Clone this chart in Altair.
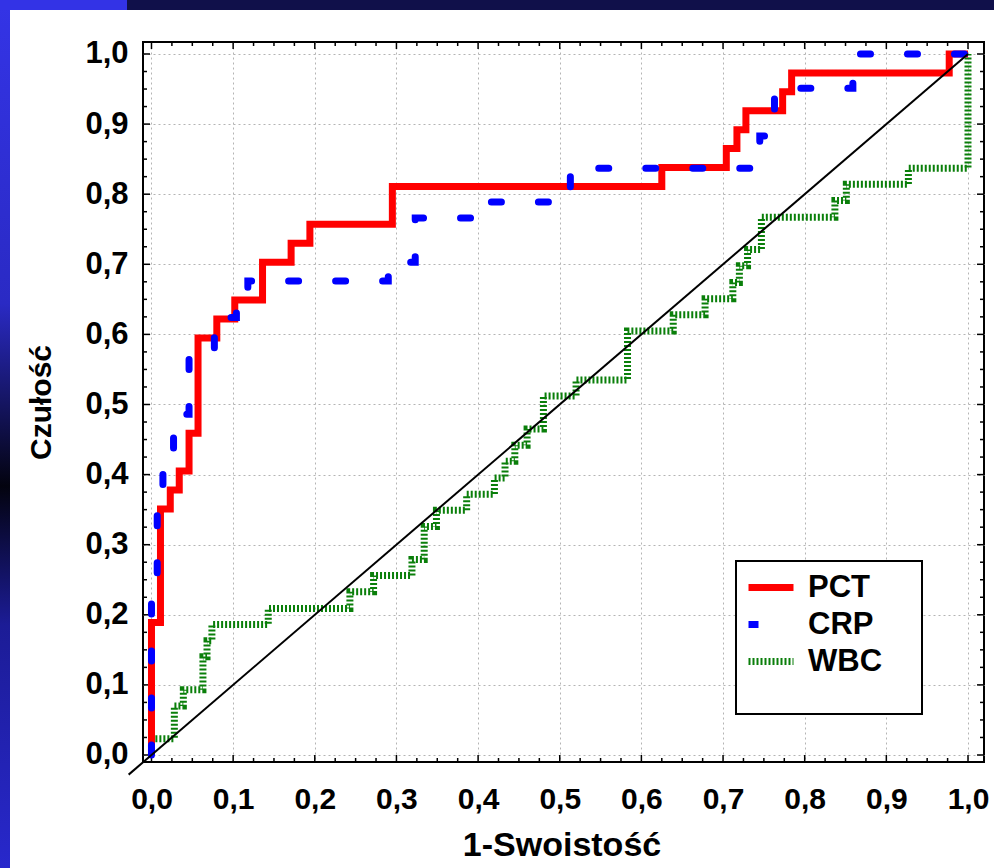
import altair as alt
import pandas as pd

# ---------------- data ----------------
tests = ["PCT", "CRP", "WBC"]
line_colors = ["#ff0000", "#0000ff", "#0a7f0a"]
line_dashes = [[1, 0], [10, 37], [2, 2]]

# ROC corner points (end of each horizontal run), drawn with step-before
pct_fpr = [0.0, 0.011, 0.023, 0.034, 0.046, 0.057, 0.080, 0.102, 0.136, 0.171,
           0.194, 0.295, 0.625, 0.704, 0.717, 0.728, 0.773, 0.784, 0.977, 1.0]
pct_tpr = [0.0, 0.189, 0.351, 0.378, 0.405, 0.459, 0.595, 0.622, 0.649, 0.703,
           0.730, 0.757, 0.811, 0.838, 0.865, 0.892, 0.919, 0.946, 0.973, 1.0]

crp_fpr = [0.0, 0.007, 0.014, 0.027, 0.046, 0.077, 0.104, 0.118, 0.290, 0.323,
           0.410, 0.513, 0.745, 0.763, 0.859, 1.0]
crp_tpr = [0.0, 0.243, 0.360, 0.405, 0.486, 0.580, 0.624, 0.649, 0.676, 0.703,
           0.766, 0.789, 0.837, 0.883, 0.951, 1.0]

wbc_fpr = [0.0, 0.028, 0.039, 0.063, 0.068, 0.074, 0.143, 0.243, 0.272, 0.319,
           0.334, 0.349, 0.386, 0.420, 0.433, 0.445, 0.460, 0.480, 0.520, 0.583,
           0.639, 0.678, 0.712, 0.720, 0.730, 0.747, 0.837, 0.851, 0.927, 1.0, 1.0]
wbc_tpr = [0.0, 0.023, 0.070, 0.093, 0.140, 0.163, 0.186, 0.209, 0.233, 0.256,
           0.279, 0.326, 0.349, 0.372, 0.395, 0.419, 0.442, 0.465, 0.512, 0.535,
           0.605, 0.628, 0.651, 0.674, 0.698, 0.721, 0.767, 0.791, 0.814, 0.837, 1.0]

diag_x = [-0.028, 1.0]
diag_y = [-0.028, 1.0]

major_ticks = [0.0, 0.1, 0.2, 0.3, 0.4, 0.5, 0.6, 0.7, 0.8, 0.9, 1.0]
minor_ticks = [i / 40 for i in range(41) if i % 4 != 0]

# ---------------- tables ----------------
rows = []
for name, fx, ty in [("WBC", wbc_fpr, wbc_tpr), ("PCT", pct_fpr, pct_tpr), ("CRP", crp_fpr, crp_tpr)]:
    for i, (a, b) in enumerate(zip(fx, ty)):
        rows.append({"test": name, "fpr": a, "tpr": b, "order": i})
roc = pd.DataFrame(rows)
diag = pd.DataFrame({"fpr": diag_x, "tpr": diag_y})
major_df = pd.DataFrame({"t": major_ticks})
minor_df = pd.DataFrame({"t": minor_ticks})
dummy = pd.DataFrame({"a": [0]})

# ---------------- layout ----------------
W, H = 841, 720
PAD_L, PAD_T, PAD_R, PAD_B = 143, 42, 10, 106
FONT = "Liberation Sans, Arial, sans-serif"

xs = alt.Scale(domain=[-0.0104, 1.0196], nice=False, zero=False)
ys = alt.Scale(domain=[-0.0100, 1.0171], nice=False, zero=False)
label_expr = "replace(datum.label, '.', ',')"

xaxis = alt.Axis(values=major_ticks, format=".1f", labelExpr=label_expr,
                 grid=True, gridColor="#b4b4b4", gridDash=[2, 3], gridWidth=1,
                 domain=False, ticks=False, tickSize=0,
                 labelFont=FONT, labelFontSize=30, labelFontWeight="bold",
                 labelColor="black", labelPadding=22, labelFlush=False, labelOverlap=False,
                 title="1-Swoistość", titleFont=FONT, titleFontSize=34,
                 titleFontWeight="bold", titleColor="black",
                 titleX=W / 2 - 2, titleY=83, titleBaseline="middle", titleAlign="center")
yaxis = alt.Axis(values=major_ticks, format=".1f", labelExpr=label_expr,
                 grid=True, gridColor="#b4b4b4", gridDash=[2, 3], gridWidth=1,
                 domain=False, ticks=False, tickSize=0,
                 labelFont=FONT, labelFontSize=31, labelFontWeight="bold",
                 labelColor="black", labelPadding=15, labelFlush=False, labelOverlap=False,
                 title="Czułość", titleFont=FONT, titleFontSize=30,
                 titleFontWeight="bold", titleColor="black", titleAngle=270,
                 titleX=-102, titleY=H / 2, titleBaseline="middle", titleAlign="center")

NBSP = "\u00a0"
# the empty legend title only reserves the blank room to the right of and below the entries
legend = alt.Legend(orient="none", legendX=593, legendY=519,
                    title=[NBSP] * 6, titleOrient="right", titleFontSize=20,
                    titleLineHeight=23, titlePadding=31, titleAnchor="start",
                    symbolType="stroke", symbolSize=2025, symbolStrokeWidth=7,
                    clipHeight=35,
                    labelFont=FONT, labelFontSize=31, labelFontWeight="bold",
                    labelColor="black", labelOffset=11,
                    rowPadding=2, padding=9, strokeColor="black", fillColor="white")


def X(field):
    return alt.X(field, type="quantitative", scale=xs, axis=xaxis)


def Y(field):
    return alt.Y(field, type="quantitative", scale=ys, axis=yaxis)


# ---------------- background strips (page decoration) ----------------
left_grad = alt.LinearGradient(
    gradient="linear", x1=0, x2=0, y1=0, y2=1,
    stops=[alt.GradientStop(color="#3434e6", offset=0),
           alt.GradientStop(color="#2a2ac4", offset=0.35),
           alt.GradientStop(color="#03030f", offset=0.56),
           alt.GradientStop(color="#1c1c96", offset=0.72),
           alt.GradientStop(color="#2828cc", offset=1)])
strip_left = alt.Chart(dummy).mark_rect(fill=left_grad, strokeWidth=0).encode(
    x=alt.value(-PAD_L), x2=alt.value(-PAD_L + 10),
    y=alt.value(-PAD_T), y2=alt.value(-PAD_T + 868))
strip_top_blue = alt.Chart(dummy).mark_rect(fill="#3333e6", strokeWidth=0).encode(
    x=alt.value(-PAD_L), x2=alt.value(-PAD_L + 127),
    y=alt.value(-PAD_T), y2=alt.value(-PAD_T + 10))
strip_top_navy = alt.Chart(dummy).mark_rect(fill="#10104a", strokeWidth=0).encode(
    x=alt.value(-PAD_L + 127), x2=alt.value(-PAD_L + 994),
    y=alt.value(-PAD_T), y2=alt.value(-PAD_T + 10))

# ---------------- inward ticks on all four sides ----------------
def tick_layers(df, L):
    b = alt.Chart(df).mark_rule(color="black", strokeWidth=1.5).encode(
        x=X("t"), y=alt.value(H), y2=alt.value(H - L))
    t = alt.Chart(df).mark_rule(color="black", strokeWidth=1.5).encode(
        x=X("t"), y=alt.value(0), y2=alt.value(L))
    l = alt.Chart(df).mark_rule(color="black", strokeWidth=1.5).encode(
        y=Y("t"), x=alt.value(0), x2=alt.value(L))
    r = alt.Chart(df).mark_rule(color="black", strokeWidth=1.5).encode(
        y=Y("t"), x=alt.value(W), x2=alt.value(W - L))
    return [b, t, l, r]


ticks = tick_layers(major_df, 7) + tick_layers(minor_df, 4)

# ---------------- ROC curves ----------------
color = alt.Color("test:N", scale=alt.Scale(domain=tests, range=line_colors), legend=legend)
dash = alt.StrokeDash("test:N", scale=alt.Scale(domain=tests, range=line_dashes), legend=legend)


def roc_layer(name, cap):
    return alt.Chart(roc[roc.test == name]).mark_line(
        interpolate="step-before", strokeWidth=7, strokeCap=cap, strokeJoin="miter"
    ).encode(x=X("fpr"), y=Y("tpr"), order="order:Q", color=color, strokeDash=dash)


wbc_line = roc_layer("WBC", "butt")
pct_line = roc_layer("PCT", "butt")
crp_line = roc_layer("CRP", "round")

diag_line = alt.Chart(diag).mark_line(color="black", strokeWidth=2).encode(
    x=X("fpr"), y=Y("tpr"))

chart = alt.layer(
    strip_left, strip_top_blue, strip_top_navy,
    *ticks,
    wbc_line, pct_line, crp_line, diag_line
).properties(
    width=W, height=H,
    padding={"left": PAD_L, "top": PAD_T, "right": PAD_R, "bottom": PAD_B},
    autosize=alt.AutoSizeParams(type="none"),
    background="white",
).configure_view(
    stroke="black", strokeWidth=2
).configure_legend(
    strokeWidth=2
)

chart.save("out.html", embed_options={"renderer": "svg", "actions": False})
